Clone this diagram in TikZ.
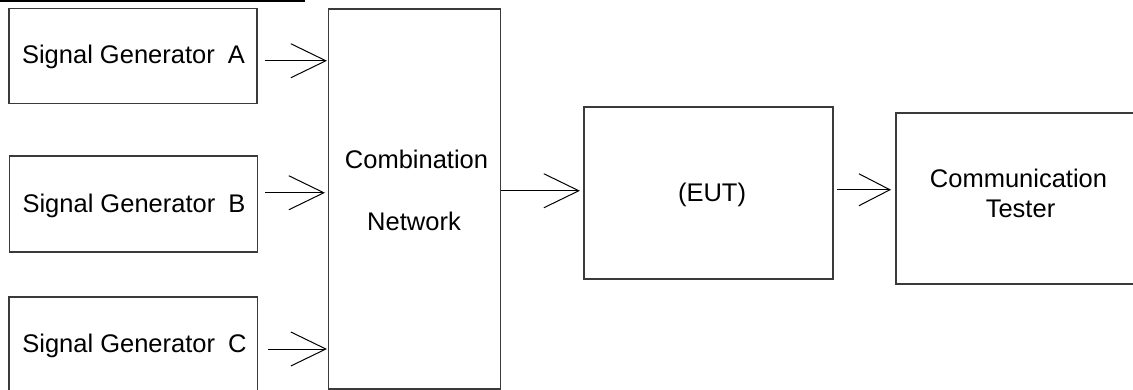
\documentclass[tikz,border=0pt]{standalone}
\usepackage{fontspec}
\setmainfont{Liberation Sans}
\usetikzlibrary{arrows.meta}
\definecolor{edge}{HTML}{3A3A3A}
\tikzset{
  box/.style={draw=edge, line width=1.5pt, inner sep=0pt, anchor=north west},
  lbl/.style={anchor=base, inner sep=0pt, font=\fontsize{25.5}{30}\selectfont},
  arr/.style={line width=1pt, -{Straight Barb[length=35pt,width=34pt,line width=1pt]}},
  arrs/.style={line width=1pt, -{Straight Barb[length=31pt,width=32pt,line width=1pt]}},
}
\begin{document}
\begin{tikzpicture}[x=1pt,y=-1pt]
\useasboundingbox (0,0) rectangle (1133,389);
\clip (0,0) rectangle (1133,389);
% top rule
\draw[line width=2pt] (0,0.5) coordinate (r1) -- (305,0.5) coordinate (r2);
% boxes
\node[box, minimum width=248pt, minimum height=95pt] (A) at (8,7.5) {};
\node[box, minimum width=248pt, minimum height=96pt] (B) at (8.5,155) {};
\node[box, minimum width=248.5pt, minimum height=110pt] (C) at (8,296) {};
\node[box, minimum width=172pt, minimum height=380pt] (N) at (327.5,8) {};
\node[box, minimum width=249pt, minimum height=172pt] (E) at (583,106) {};
\node[box, minimum width=260pt, minimum height=171pt] (T) at (895,112) {};
% labels
\node[lbl] (tA) at (133.5,63) {Signal Generator\hspace{6pt} A};
\node[lbl] (tB) at (134,212) {Signal Generator\hspace{6pt} B};
\node[lbl] (tC) at (134.5,352) {Signal Generator\hspace{6pt} C};
\node[lbl] (tN1) at (416.5,168) {Combination};
\node[lbl] (tN2) at (414,230) {Network};
\node[lbl] (tE) at (712,201) {(EUT)};
\node[lbl] (tT1) at (1018.5,187) {Communication};
\node[lbl] (tT2) at (1020.5,217) {Tester};
% connectors
\draw[arr, shorten <=7pt, shorten >=0.5pt] ([yshift=-5pt]A.east) -- ([yshift=-5pt]A.east -| N.west);
\draw[arr, shorten <=7pt, shorten >=2.5pt] ([yshift=11pt]B.west -| B.east) -- ([yshift=11pt]B.west -| N.west);
\draw[arr, shorten <=10pt, shorten >=0.5pt] ([yshift=-349pt]C.north east |- 0,0) -- ([yshift=-349pt]N.west |- 0,0);
\draw[arr, shorten <=0pt, shorten >=3pt] ([yshift=8pt]N.east) -- ([yshift=8pt]N.east -| E.west);
\draw[arrs, shorten <=3.5pt, shorten >=4pt] ([yshift=3pt]E.east) -- ([yshift=3pt]E.east -| T.west);
\end{tikzpicture}
\end{document}
